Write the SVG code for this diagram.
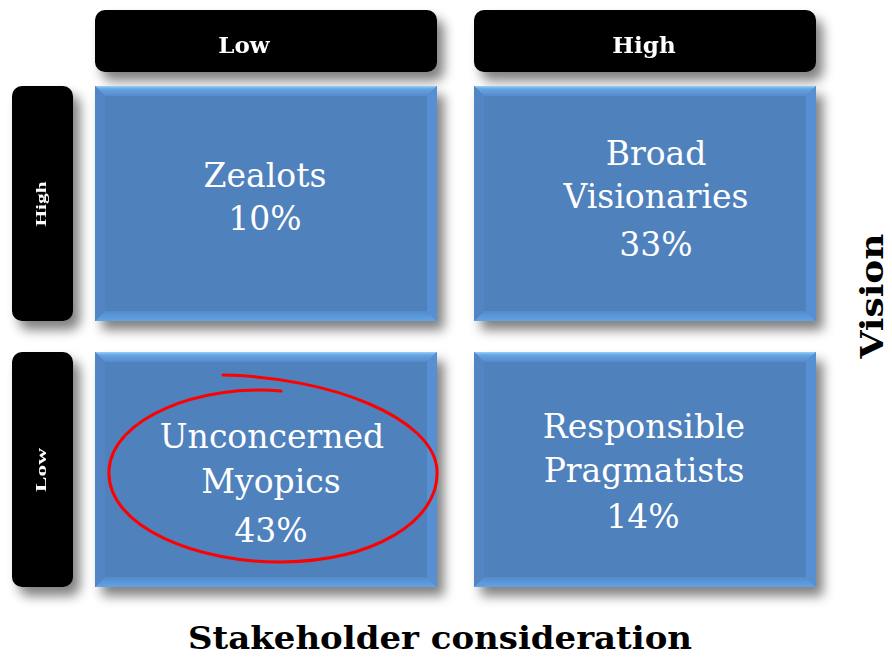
<svg xmlns="http://www.w3.org/2000/svg" width="892" height="659" viewBox="0 0 892 659">
<style>
.hdr{fill:#000}
.hdrtxt{font-family:"DejaVu Serif","Liberation Serif",serif;font-weight:bold;font-size:23px;fill:#fff;text-anchor:middle}
.sidetxt{font-family:"Liberation Serif","DejaVu Serif",serif;font-weight:bold;font-size:14px;fill:#fff;text-anchor:middle}
.cell{font-family:"DejaVu Serif","Liberation Serif",serif;font-size:33px;fill:#fff;text-anchor:middle}
.axis{font-family:"DejaVu Serif","Liberation Serif",serif;font-weight:bold;font-size:32px;fill:#000;text-anchor:middle}
</style>
<defs>
<filter id="sh" x="-20%" y="-20%" width="150%" height="170%">
<feGaussianBlur in="SourceAlpha" stdDeviation="6"/>
<feOffset dx="7" dy="9" result="b"/>
<feComponentTransfer><feFuncA type="linear" slope="0.5"/></feComponentTransfer>
<feMerge><feMergeNode/><feMergeNode in="SourceGraphic"/></feMerge>
</filter>
<linearGradient id="gTop" x1="0" y1="0" x2="0" y2="1">
<stop offset="0" stop-color="#92d2fa"/>
<stop offset="0.3" stop-color="#67a3e2"/>
<stop offset="1" stop-color="#558bcc"/>
</linearGradient>
<linearGradient id="gBot" x1="0" y1="0" x2="0" y2="1">
<stop offset="0" stop-color="#548bcc"/>
<stop offset="1" stop-color="#62a2e6"/>
</linearGradient>
<g id="box">
<rect x="0" y="0" width="342" height="235" fill="#4f81bd"/>
<polygon points="0,0 342,0 332,10 10,10" fill="url(#gTop)"/>
<polygon points="0,235 342,235 332,225 10,225" fill="url(#gBot)"/>
<polygon points="0,0 10,10 10,225 0,235" fill="#5284c3"/>
<polygon points="342,0 332,10 332,225 342,235" fill="#578fd2"/>
</g>
</defs>
<rect width="892" height="659" fill="#fff"/>

<g id="header-low" filter="url(#sh)">
<rect class="hdr" x="95" y="10" width="342" height="62" rx="10"/>
<text class="hdrtxt" x="244" y="53">Low</text>
</g>
<g id="header-high" filter="url(#sh)">
<rect class="hdr" x="474" y="10" width="342" height="62" rx="10"/>
<text class="hdrtxt" x="644" y="53">High</text>
</g>
<g id="side-high" filter="url(#sh)">
<rect class="hdr" x="12" y="86" width="61" height="235" rx="10"/>
<text class="sidetxt" transform="translate(46,204) rotate(-90)" textLength="45" lengthAdjust="spacingAndGlyphs">High</text>
</g>
<g id="side-low" filter="url(#sh)">
<rect class="hdr" x="12" y="352" width="61" height="235" rx="10"/>
<text class="sidetxt" transform="translate(46,470) rotate(-90)" textLength="44" lengthAdjust="spacingAndGlyphs">Low</text>
</g>

<g id="cell-zealots">
<use href="#box" x="95" y="86" filter="url(#sh)"/>
<text class="cell" x="265" y="187">Zealots</text>
<text class="cell" x="265" y="230">10%</text>
</g>
<g id="cell-broad-visionaries">
<use href="#box" x="474" y="86" filter="url(#sh)"/>
<text class="cell" x="656" y="165">Broad</text>
<text class="cell" x="656" y="208">Visionaries</text>
<text class="cell" x="656" y="256">33%</text>
</g>
<g id="cell-unconcerned-myopics">
<use href="#box" x="95" y="352" filter="url(#sh)"/>
<text class="cell" x="272" y="448">Unconcerned</text>
<text class="cell" x="271" y="493">Myopics</text>
<text class="cell" x="271" y="542">43%</text>
</g>
<g id="cell-responsible-pragmatists">
<use href="#box" x="474" y="352" filter="url(#sh)"/>
<text class="cell" x="644" y="438">Responsible</text>
<text class="cell" x="644" y="482">Pragmatists</text>
<text class="cell" x="643" y="528">14%</text>
</g>

<g id="highlight">
<path d="M 281,391 C 200,384 112,418 109,470 C 106,528 200,563 282,562 C 372,561 440,522 437,470 C 434,418 330,377 223,375" fill="none" stroke="#ff0000" stroke-width="3" stroke-linecap="round"/>
</g>

<g id="axis-labels">
<text class="axis" transform="translate(883,296) rotate(-90)" textLength="125" lengthAdjust="spacingAndGlyphs">Vision</text>
<text class="axis" x="440" y="649" textLength="504" lengthAdjust="spacingAndGlyphs">Stakeholder consideration</text>
</g>
</svg>
